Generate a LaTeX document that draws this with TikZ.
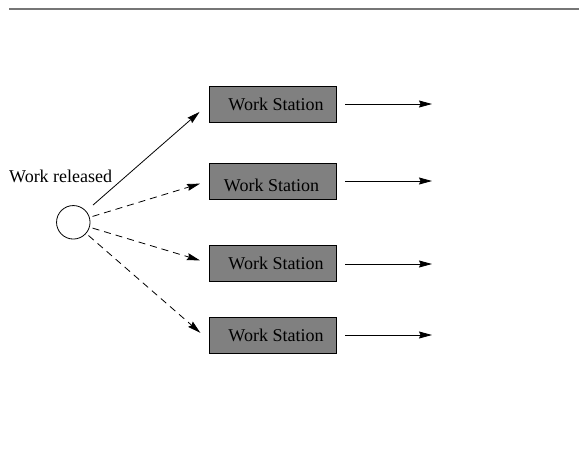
\documentclass[tikz,border=0pt]{standalone}
\usepackage{fontspec}
\setmainfont{Liberation Serif}
\usetikzlibrary{arrows.meta}
\definecolor{boxgray}{RGB}{128,128,128}
\definecolor{rulegray}{RGB}{118,118,118}
\begin{document}
\begin{tikzpicture}[x=1pt,y=-1pt,
  wsbox/.style={draw=black, fill=boxgray, minimum width=127pt, minimum height=36pt,
    inner sep=0pt, line width=0.8pt, font=\rmfamily\fontsize{18}{20}\selectfont},
  arr/.style={-{Stealth[length=13pt,width=7pt,inset=1.5pt]}, line width=0.8pt},
  dsh/.style={dash pattern=on 7pt off 5pt}]
\useasboundingbox (0,0) rectangle (579,456);
\coordinate (r0) at (9,9);
\coordinate (r1) at (579,9);
\draw[rulegray, line width=2pt] (r0) -- (r1);

\node[wsbox] (b1) at (272.5,104) {\hspace{7pt}Work Station};
\node[wsbox] (b2) at (272.5,181) {\hspace{-2pt}\raisebox{-4pt}[\height][\depth]{Work Station}};
\node[wsbox] (b3) at (272.5,263) {\hspace{7pt}Work Station};
\node[wsbox] (b4) at (272.5,335) {\hspace{7pt}Work Station};

\node[draw=black, circle, minimum size=33.5pt, inner sep=0pt, line width=0.8pt] (c) at (73.3,222.3) {};
\node[font=\rmfamily\fontsize{18}{20}\selectfont, anchor=base west, inner sep=0pt] (lab) at (9,182) {Work released};

\draw[arr, shorten <=9pt, shorten >=12pt] (c) -- (b1.west);
\draw[arr, dsh, shorten <=3pt, shorten >=9pt] (c) -- (b2.west);
\draw[arr, dsh, shorten <=3pt, shorten >=9pt] (c) -- (b3.west);
\draw[arr, dsh, shorten <=3pt, shorten >=11pt] (c) -- ([yshift=-5pt]b4.west);

\foreach \i/\y in {1/104,2/181,3/264,4/335}{
  \coordinate (o\i) at (432,\y);
  \draw[arr, shorten <=9pt] (b\i.east |- o\i) -- (o\i);
}
\end{tikzpicture}
\end{document}
